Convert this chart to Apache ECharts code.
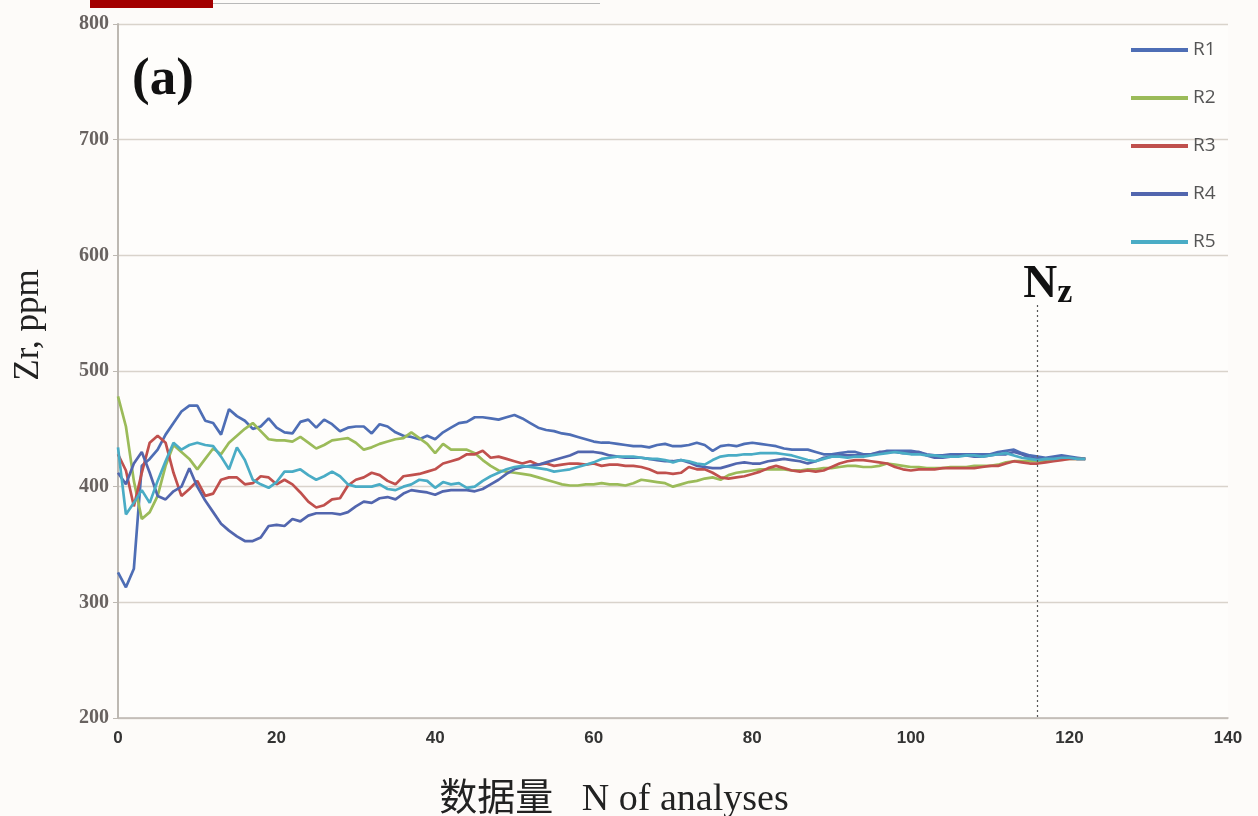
<!DOCTYPE html>
<html>
<head>
<meta charset="utf-8">
<title>Zr, ppm vs N of analyses</title>
<script src="https://cdn.jsdelivr.net/npm/echarts@6/dist/echarts.min.js"></script>
<style>
  html, body { margin: 0; padding: 0; background: #fdfbf9; }
  #chart { width: 1258px; height: 816px; }
</style>
</head>
<body>
<div id="chart"></div>
<script>
// running Zr values per replicate, one value per N (N = 0 .. 122)
const r1 = [326, 313, 329, 418, 424, 432, 445, 455, 465, 470, 470, 457, 455, 445, 467, 461, 457, 450, 452, 459,
  451, 447, 446, 456, 458, 451, 458, 454, 448, 451, 452, 452, 446, 454, 452, 447, 444, 443, 441, 444,
  441, 447, 451, 455, 456, 460, 460, 459, 458, 460, 462, 459, 455, 451, 449, 448, 446, 445, 443, 441,
  439, 438, 438, 437, 436, 435, 435, 434, 436, 437, 435, 435, 436, 438, 436, 431, 435, 436, 435, 437,
  438, 437, 436, 435, 433, 432, 432, 432, 430, 428, 428, 429, 430, 430, 428, 428, 429, 431, 431, 431,
  431, 430, 428, 427, 427, 428, 428, 428, 428, 428, 428, 430, 431, 432, 429, 427, 426, 425, 426, 427,
  426, 425, 424];
const r2 = [478, 452, 405, 372, 378, 392, 418, 436, 430, 424, 415, 424, 433, 428, 438, 444, 450, 455, 448, 441,
  440, 440, 439, 443, 438, 433, 436, 440, 441, 442, 438, 432, 434, 437, 439, 441, 442, 447, 442, 437,
  429, 437, 432, 432, 432, 429, 423, 418, 414, 413, 412, 411, 410, 408, 406, 404, 402, 401, 401, 402,
  402, 403, 402, 402, 401, 403, 406, 405, 404, 403, 400, 402, 404, 405, 407, 408, 406, 410, 412, 413,
  414, 415, 415, 415, 415, 414, 414, 415, 415, 416, 416, 417, 418, 418, 417, 417, 418, 420, 419, 418,
  417, 417, 416, 416, 416, 417, 417, 417, 418, 418, 418, 419, 421, 422, 422, 422, 422, 422, 423, 424,
  424, 424, 424];
const r3 = [428, 414, 383, 412, 438, 444, 438, 412, 392, 398, 405, 392, 394, 406, 408, 408, 402, 403, 409, 408,
  402, 406, 402, 395, 387, 382, 384, 389, 390, 401, 406, 408, 412, 410, 405, 402, 409, 410, 411, 413,
  415, 420, 422, 424, 428, 428, 431, 425, 426, 424, 422, 420, 422, 419, 420, 418, 419, 420, 420, 419,
  420, 418, 419, 419, 418, 418, 417, 415, 412, 412, 411, 412, 417, 415, 415, 412, 408, 407, 408, 409,
  411, 413, 416, 418, 416, 414, 413, 414, 413, 414, 417, 420, 422, 423, 423, 422, 421, 420, 417, 415,
  414, 415, 415, 415, 416, 416, 416, 416, 416, 417, 418, 418, 420, 422, 421, 420, 420, 421, 422, 423,
  424, 424, 424];
const r4 = [412, 402, 420, 430, 412, 392, 389, 396, 400, 416, 400, 388, 378, 368, 362, 357, 353, 353, 356, 366,
  367, 366, 372, 370, 375, 377, 377, 377, 376, 378, 383, 387, 386, 390, 391, 389, 394, 397, 396, 395,
  393, 396, 397, 397, 397, 396, 398, 402, 406, 411, 415, 417, 418, 419, 421, 423, 425, 427, 430, 430,
  430, 429, 427, 426, 425, 425, 425, 424, 423, 422, 422, 423, 421, 418, 417, 416, 416, 418, 420, 421,
  420, 420, 422, 423, 424, 423, 422, 420, 422, 425, 426, 427, 427, 427, 427, 428, 430, 430, 430, 429,
  429, 430, 427, 425, 425, 426, 427, 427, 426, 426, 427, 428, 428, 430, 428, 425, 424, 424, 425, 426,
  425, 424, 424];
const r5 = [434, 376, 386, 397, 386, 405, 422, 438, 432, 436, 438, 436, 435, 426, 415, 434, 423, 406, 402, 399,
  404, 413, 413, 415, 410, 406, 409, 413, 409, 402, 400, 400, 400, 402, 398, 397, 400, 402, 406, 405,
  399, 404, 402, 403, 399, 400, 405, 409, 412, 415, 417, 418, 417, 416, 415, 413, 414, 415, 417, 419,
  421, 424, 425, 426, 426, 426, 425, 424, 424, 423, 421, 423, 422, 420, 419, 423, 426, 427, 427, 428,
  428, 429, 429, 429, 428, 427, 425, 423, 422, 424, 426, 426, 425, 426, 426, 427, 428, 429, 430, 429,
  428, 428, 427, 427, 426, 426, 426, 427, 427, 426, 427, 428, 429, 427, 425, 424, 423, 424, 424, 425,
  425, 424, 424];

const seriesNames = ['R1', 'R2', 'R3', 'R4', 'R5'];
const seriesColors = ['#4e6eb5', '#9bbb59', '#c0504d', '#5266ae', '#4aacc5'];
const xTicks = [0, 20, 40, 60, 80, 100, 120, 140];
const yTicks = [200, 300, 400, 500, 600, 700, 800];
const NZ = 116;          // N_z marker position
const nzTop = 557;       // top end of the N_z marker line (ppm)

const N = r1.map((_, i) => i);
const allData = [r1, r2, r3, r4, r5];

const chart = echarts.init(document.getElementById('chart'));

const series = allData.map((vals, k) => {
    const s = {
        name: seriesNames[k],
        type: 'line',
        data: vals.map((v, i) => [N[i], v]),
        showSymbol: false,
        symbol: 'none',
        lineStyle: { width: 2.7, color: seriesColors[k] },
        itemStyle: { color: seriesColors[k] },
        animation: false
    };
    return s;
});

// N_z dotted marker
series[4].markLine = {
    silent: true,
    symbol: 'none',
    animation: false,
    lineStyle: { type: [2, 3], color: '#555', width: 1.2 },
    label: {
        show: true,
        position: 'start',
        distance: -5,
        padding: [0, 0, 0, 20],
        formatter: '{n|N}{z|z}',
        rich: {
            n: { fontFamily: 'Liberation Serif', fontWeight: 'bold', fontSize: 47, color: '#111' },
            z: { fontFamily: 'Liberation Serif', fontWeight: 'bold', fontSize: 34, color: '#111', padding: [16, 0, 0, 0] }
        }
    },
    data: [[{ coord: [NZ, nzTop] }, { coord: [NZ, yTicks[0]] }]]
};

const option = {
    backgroundColor: '#fdfbf9',
    animation: false,
    grid: {
        left: 118, top: 24, width: 1110, height: 694,
        outerBoundsMode: 'none',
        show: true, backgroundColor: '#fefdfb', borderWidth: 0
    },
    legend: {
        orient: 'vertical',
        left: 1131,
        top: 40,
        padding: 0,
        itemWidth: 57,
        itemHeight: 4,
        itemGap: 28,
        icon: 'rect',
        data: seriesNames,
        textStyle: { fontFamily: 'Open Sans', fontSize: 19, color: '#555', lineHeight: 20 }
    },
    xAxis: {
        type: 'value',
        min: xTicks[0],
        max: xTicks[xTicks.length - 1],
        interval: 20,
        name: '数据量   N of analyses',
        nameLocation: 'middle',
        nameGap: 63,
        nameTextStyle: {
            fontFamily: 'Liberation Serif, Noto Sans CJK SC',
            fontSize: 38,
            color: '#222',
            padding: [0, 118, 0, 0]
        },
        axisLine: { lineStyle: { color: '#bdb8b2', width: 1.5 } },
        axisTick: { show: false },
        splitLine: { show: false },
        axisLabel: { fontFamily: 'Liberation Sans', fontWeight: 'bold', fontSize: 17, color: '#333', margin: 12 }
    },
    yAxis: {
        type: 'value',
        min: yTicks[0],
        max: yTicks[yTicks.length - 1],
        interval: 100,
        name: 'Zr, ppm',
        nameLocation: 'middle',
        nameGap: 72,
        nameTextStyle: {
            fontFamily: 'Liberation Serif',
            fontSize: 35,
            color: '#222',
            padding: [0, 0, 0, 92]
        },
        axisLine: { show: true, lineStyle: { color: '#bdb8b2', width: 2 } },
        axisTick: { show: true, length: 5, lineStyle: { color: '#bdb8b2' } },
        splitLine: { lineStyle: { color: '#d9d3cb', width: 1.3 } },
        axisLabel: { fontFamily: 'Liberation Serif', fontWeight: 'bold', fontSize: 20, color: '#686260', margin: 9 }
    },
    graphic: [
        { type: 'rect', left: 90, top: 0, shape: { width: 123, height: 8 }, style: { fill: '#a30000' } },
        { type: 'rect', left: 213, top: 3, shape: { width: 387, height: 1 }, style: { fill: '#b9b9b9' } },
        {
            type: 'text', left: 132, top: 54,
            style: { text: '(a)', font: 'bold 53px "Liberation Serif"', fill: '#111' }
        }
    ],
    series: series
};

chart.setOption(option);
</script>
</body>
</html>
